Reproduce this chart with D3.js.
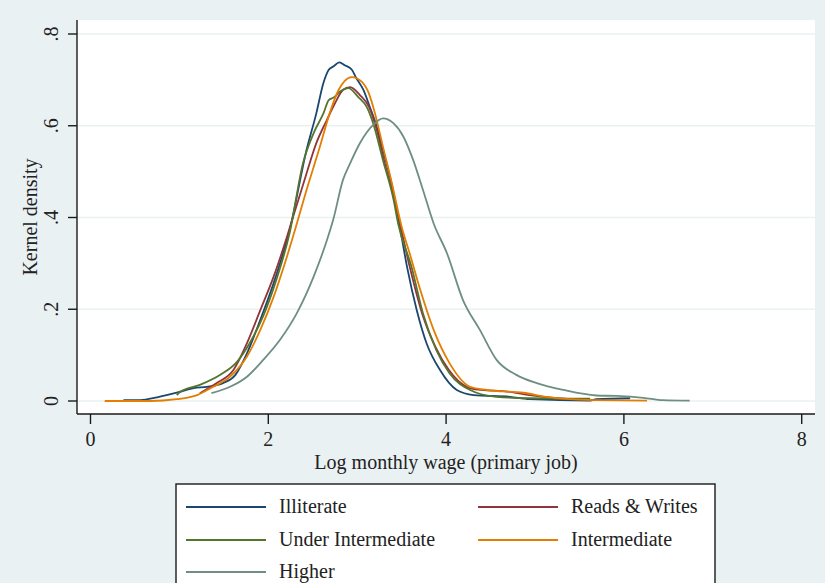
<!DOCTYPE html>
<html>
<head>
<meta charset="utf-8">
<script src="https://cdn.jsdelivr.net/npm/d3@7"></script>
<style>
  html, body { margin: 0; padding: 0; background: #eaf1f3; }
  svg { display: block; }
  text { font-family: "Liberation Serif", "DejaVu Serif", serif; fill: #222; }
</style>
</head>
<body>
<svg id="chart" width="825" height="583"></svg>
<script>
// Kernel density estimates of log monthly wage (primary job), by education level.
// Each entry is [log wage, density].
const illiterate = [
  [0.37,0.002],[0.56,0.002],[0.75,0.008],[0.97,0.018],[1.16,0.028],[1.31,0.031],
  [1.49,0.039],[1.63,0.057],[1.76,0.104],[1.91,0.177],[2.06,0.257],[2.21,0.351],
  [2.24,0.373],[2.43,0.547],[2.54,0.627],[2.62,0.693],[2.68,0.722],[2.73,0.729],
  [2.80,0.738],[2.86,0.732],[2.94,0.722],[2.99,0.704],[3.07,0.678],[3.14,0.642],
  [3.22,0.598],[3.31,0.533],[3.41,0.453],[3.46,0.402],[3.56,0.293],[3.67,0.198],
  [3.78,0.126],[3.93,0.068],[4.12,0.024],[4.31,0.013],[4.72,0.009],[4.94,0.004],
  [5.62,0.001],[5.69,0.004],[6.07,0.006]
];
const readsWrites = [
  [1.23,0.017],[1.42,0.039],[1.61,0.068],[1.76,0.126],[1.91,0.198],[2.06,0.271],
  [2.21,0.358],[2.28,0.402],[2.43,0.496],[2.54,0.562],[2.66,0.613],[2.75,0.649],
  [2.84,0.678],[2.92,0.684],[3.03,0.667],[3.13,0.642],[3.22,0.591],[3.31,0.518],
  [3.43,0.431],[3.59,0.293],[3.73,0.191],[3.88,0.118],[4.03,0.068],[4.23,0.031],
  [4.31,0.026],[4.72,0.020],[4.94,0.013],[5.24,0.006],[5.66,0.002]
];
const underIntermediate = [
  [0.97,0.013],[1.01,0.020],[1.23,0.035],[1.46,0.057],[1.65,0.086],[1.79,0.126],
  [1.94,0.184],[2.09,0.264],[2.24,0.366],[2.39,0.518],[2.51,0.584],[2.62,0.627],
  [2.68,0.656],[2.74,0.662],[2.81,0.675],[2.90,0.682],[3.01,0.663],[3.11,0.640],
  [3.18,0.605],[3.29,0.525],[3.41,0.438],[3.46,0.387],[3.61,0.293],[3.74,0.191],
  [3.89,0.111],[4.04,0.060],[4.27,0.024],[4.57,0.009],[4.94,0.006],[5.62,0.005]
];
const intermediate = [
  [0.16,0.000],[0.67,0.000],[0.97,0.004],[1.20,0.013],[1.38,0.031],[1.57,0.053],
  [1.76,0.097],[1.91,0.155],[2.06,0.227],[2.21,0.315],[2.30,0.373],[2.43,0.460],
  [2.58,0.554],[2.69,0.627],[2.79,0.678],[2.86,0.698],[2.94,0.706],[3.05,0.696],
  [3.13,0.671],[3.20,0.627],[3.29,0.554],[3.39,0.475],[3.50,0.380],[3.59,0.322],
  [3.71,0.242],[3.86,0.155],[4.04,0.082],[4.27,0.031],[4.46,0.024],[4.87,0.018],
  [5.13,0.009],[5.39,0.004],[5.69,0.002],[6.26,0.001]
];
const higher = [
  [1.36,0.017],[1.57,0.031],[1.76,0.053],[1.94,0.089],[2.13,0.133],[2.32,0.191],
  [2.51,0.271],[2.66,0.351],[2.73,0.395],[2.84,0.482],[2.92,0.518],[3.03,0.562],
  [3.18,0.602],[3.29,0.616],[3.41,0.605],[3.52,0.576],[3.63,0.525],[3.74,0.460],
  [3.86,0.387],[4.01,0.322],[4.19,0.220],[4.38,0.155],[4.57,0.089],[4.79,0.057],
  [5.02,0.039],[5.32,0.024],[5.69,0.012],[5.92,0.011],[6.22,0.007],[6.44,0.002],
  [6.74,0.001]
];

const seriesNames = ["Illiterate", "Reads & Writes", "Under Intermediate", "Intermediate", "Higher"];
const seriesData = [illiterate, readsWrites, underIntermediate, intermediate, higher];
const seriesColors = ["#1a476f", "#90353b", "#55752f", "#e37e00", "#6e8e84"];

const xTicks = [0, 2, 4, 6, 8];
const yTicks = [0, 0.2, 0.4, 0.6, 0.8];
const yTickLabels = ["0", ".2", ".4", ".6", ".8"];

const svg = d3.select("#chart");
const W = 825, H = 583;
const FONT = 20;

// plot region
const plot = { left: 77, right: 815, top: 20, bottom: 414 };

const x = d3.scaleLinear().domain([0, 8]).range([90.5, 801.7]);
const y = d3.scaleLinear().domain([0, 0.8]).range([401, 34]);

svg.append("rect").attr("width", W).attr("height", H).attr("fill", "#eaf1f3");
svg.append("rect")
  .attr("x", plot.left).attr("y", plot.top)
  .attr("width", plot.right - plot.left).attr("height", plot.bottom - plot.top)
  .attr("fill", "#ffffff");

// horizontal grid lines
svg.append("g").selectAll("line").data(yTicks).join("line")
  .attr("x1", plot.left).attr("x2", plot.right)
  .attr("y1", d => y(d)).attr("y2", d => y(d))
  .attr("stroke", "#eaf1f3").attr("stroke-width", 1.6);

// density curves
const line = d3.line()
  .x(d => x(d[0])).y(d => y(d[1]))
  .curve(d3.curveMonotoneX);

svg.append("clipPath").attr("id", "plotclip").append("rect")
  .attr("x", plot.left).attr("y", plot.top)
  .attr("width", plot.right - plot.left).attr("height", plot.bottom - plot.top);

const curves = svg.append("g").attr("clip-path", "url(#plotclip)");
seriesData.forEach((s, i) => {
  curves.append("path")
    .datum(s)
    .attr("d", line)
    .attr("fill", "none")
    .attr("stroke", seriesColors[i])
    .attr("stroke-width", 1.8)
    .attr("stroke-linejoin", "round");
});

// y axis
const yAxis = svg.append("g").attr("transform", `translate(${plot.left},0)`);
yAxis.append("line")
  .attr("x1", 0).attr("x2", 0).attr("y1", plot.top).attr("y2", plot.bottom)
  .attr("stroke", "#1a1a1a").attr("stroke-width", 1.4);
yAxis.selectAll("line.tick").data(yTicks).join("line").attr("class", "tick")
  .attr("x1", -9).attr("x2", 0)
  .attr("y1", d => y(d)).attr("y2", d => y(d))
  .attr("stroke", "#1a1a1a").attr("stroke-width", 1.4);
yAxis.selectAll("text").data(yTicks).join("text")
  .attr("transform", d => `translate(-19,${y(d)}) rotate(-90)`)
  .attr("text-anchor", "middle")
  .attr("font-size", FONT)
  .text((d, i) => yTickLabels[i]);

// x axis
const xAxis = svg.append("g").attr("transform", `translate(0,${plot.bottom})`);
xAxis.append("line")
  .attr("x1", plot.left).attr("x2", plot.right).attr("y1", 0).attr("y2", 0)
  .attr("stroke", "#1a1a1a").attr("stroke-width", 1.4);
xAxis.selectAll("line.tick").data(xTicks).join("line").attr("class", "tick")
  .attr("x1", d => x(d)).attr("x2", d => x(d))
  .attr("y1", 0).attr("y2", 10)
  .attr("stroke", "#1a1a1a").attr("stroke-width", 1.4);
xAxis.selectAll("text").data(xTicks).join("text")
  .attr("x", d => x(d)).attr("y", 32)
  .attr("text-anchor", "middle")
  .attr("font-size", FONT)
  .text(d => d);

// axis titles
svg.append("text")
  .attr("x", (plot.left + plot.right) / 2).attr("y", 469)
  .attr("text-anchor", "middle").attr("font-size", FONT)
  .text("Log monthly wage (primary job)");
svg.append("text")
  .attr("transform", `translate(37,${(plot.top + plot.bottom) / 2}) rotate(-90)`)
  .attr("text-anchor", "middle").attr("font-size", FONT)
  .text("Kernel density");

// legend
const legend = svg.append("g");
legend.append("rect")
  .attr("x", 176).attr("y", 484).attr("width", 539).attr("height", 120)
  .attr("fill", "#ffffff").attr("stroke", "#1a1a1a").attr("stroke-width", 1.4);
const legendPos = [
  [186, 507], [478, 507],
  [186, 540], [478, 540],
  [186, 572]
];
seriesNames.forEach((name, i) => {
  const [lx, ly] = legendPos[i];
  legend.append("line")
    .attr("x1", lx).attr("x2", lx + 80).attr("y1", ly).attr("y2", ly)
    .attr("stroke", seriesColors[i]).attr("stroke-width", 1.8);
  legend.append("text")
    .attr("x", lx + 93).attr("y", ly + 6)
    .attr("font-size", FONT)
    .text(name);
});
</script>
</body>
</html>
